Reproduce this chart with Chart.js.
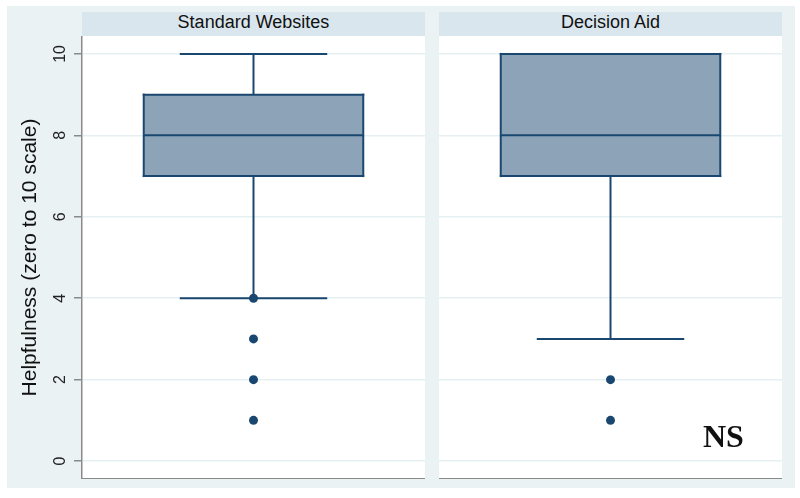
<!DOCTYPE html>
<html lang="en">
<head>
  <meta charset="UTF-8">
  <title>Helpfulness box plots</title>
  <script src="https://cdn.jsdelivr.net/npm/chart.js"></script>
  <style>
    body { margin: 0; width: 800px; height: 498px; overflow: hidden; background: #fff; font-family: Arial, "Liberation Sans", sans-serif; }
    .frame { position: absolute; left: 7px; top: 6px; width: 788px; height: 482px; background: #eaf2f3; }
    .strip { position: absolute; top: 12px; height: 24px; width: 343px; background: #d9e6ed; color: #111;
             font-size: 18px; line-height: 20px; text-align: center; }
    canvas { position: absolute; top: 36px; }
    .ns { position: absolute; left: 703px; top: 420px; font-family: "Liberation Serif", "Times New Roman", serif;
          font-weight: bold; font-size: 32px; line-height: 32px; color: #111; }
  </style>
</head>
<body>
  <div class="frame"></div>
  <div class="strip" id="strip0" style="left:82px"></div>
  <div class="strip" id="strip1" style="left:439px"></div>
  <canvas id="left" width="425" height="443" style="left:0px;width:425px;height:443px"></canvas>
  <canvas id="right" width="343" height="443" style="left:439px;width:343px;height:443px"></canvas>
  <div class="ns">NS</div>

  <script>
    // box plot summaries
    const panels = ['Standard Websites', 'Decision Aid'];
    const q1 = [7, 7];
    const median = [8, 8];
    const q3 = [9, 10];
    const whiskerLow = [4, 3];
    const whiskerHigh = [10, 10];
    const outliers = [[4, 3, 2, 1], [2, 1]];
    const yTicks = [0, 2, 4, 6, 8, 10];
    const yMin = -0.44, yMax = 10.44;

    const NAVY = '#1a476f';
    const FILL = '#8da3b8';
    const GRID = '#e6eff2';
    const AXIS = '#8a8a8a';
    const BOX_W = 0.64;  // share of panel width
    const CAP_W = 0.43;

    const chartBg = {
      id: 'chartBg',
      beforeDraw(chart) {
        const { ctx, chartArea: a } = chart;
        ctx.save();
        ctx.fillStyle = '#fff';
        ctx.fillRect(a.left, a.top, a.right - a.left, a.bottom - a.top);
        ctx.restore();
      }
    };

    function seg(x1, y1, x2, y2, cap) {
      return {
        data: [{ x: x1, y: y1 }, { x: x2, y: y2 }],
        borderColor: NAVY, borderWidth: 2, borderCapStyle: cap || 'butt',
        pointRadius: 0, tension: 0, fill: false, order: 0
      };
    }

    function makeChart(canvasId, i, withAxis) {
      document.getElementById('strip' + i).textContent = panels[i];
      const c = 0.5, hb = BOX_W / 2, hc = CAP_W / 2;
      const boxTop = seg(c - hb, q3[i], c + hb, q3[i], 'square');
      boxTop.fill = { value: q1[i] };
      boxTop.backgroundColor = FILL;
      boxTop.order = 2;
      return new Chart(document.getElementById(canvasId), {
        type: 'line',
        data: {
          datasets: [
            {
              type: 'scatter', order: 0,
              data: outliers[i].map(v => ({ x: c, y: v })),
              pointRadius: 4.5, backgroundColor: NAVY, borderWidth: 0
            },
            seg(c - hb, median[i], c + hb, median[i]),
            seg(c, q3[i], c, whiskerHigh[i]),
            seg(c, whiskerLow[i], c, q1[i]),
            seg(c - hc, whiskerHigh[i], c + hc, whiskerHigh[i]),
            seg(c - hc, whiskerLow[i], c + hc, whiskerLow[i]),
            seg(c - hb, q1[i], c + hb, q1[i], 'square'),
            seg(c - hb, q1[i], c - hb, q3[i], 'square'),
            seg(c + hb, q1[i], c + hb, q3[i], 'square'),
            boxTop
          ]
        },
        options: {
          responsive: false,
          animation: false,
          devicePixelRatio: 1,
          layout: { padding: 0, autoPadding: false },
          plugins: { legend: { display: false }, tooltip: { enabled: false } },
          scales: {
            x: {
              type: 'linear', min: 0, max: 1,
              ticks: { display: false },
              grid: { display: false },
              border: { display: true, color: AXIS, width: 1.5 },
              afterFit: s => { s.height = 0; s.paddingLeft = 0; s.paddingRight = 0; }
            },
            y: {
              type: 'linear', min: yMin, max: yMax,
              afterBuildTicks: s => { s.ticks = yTicks.map(v => ({ value: v })); },
              afterFit: s => { s.width = withAxis ? 82 : 0; s.paddingTop = 0; s.paddingBottom = 0; },
              grid: { color: GRID, lineWidth: 1.5, tickColor: AXIS, tickLength: 8, drawTicks: withAxis },
              border: { display: withAxis, color: AXIS, width: 1.5 },
              ticks: {
                display: withAxis, minRotation: 90, maxRotation: 90, crossAlign: 'center', padding: 5,
                color: '#222', font: { family: 'Arial, "Liberation Sans"', size: 16 }
              },
              title: {
                display: withAxis, text: 'Helpfulness (zero to 10 scale)', color: '#111',
                padding: { top: 18, bottom: 0 },
                font: { family: 'Arial, "Liberation Sans"', size: 21 }
              }
            }
          }
        },
        plugins: [chartBg]
      });
    }

    makeChart('left', 0, true);
    makeChart('right', 1, false);
  </script>
</body>
</html>
